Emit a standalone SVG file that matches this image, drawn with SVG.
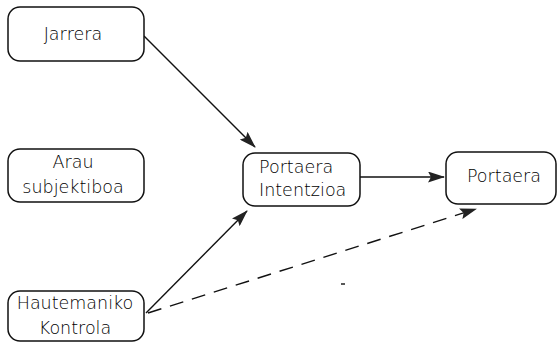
<svg xmlns="http://www.w3.org/2000/svg" width="558" height="345" viewBox="0 0 558 345">
<style>
.box{fill:#fff;stroke:#111;stroke-width:1.5}
.t{font-family:"DejaVu Sans",sans-serif;font-size:17.5px;font-weight:200;fill:#000}
.c{text-anchor:middle}
.e{stroke:#111;stroke-width:1.4;fill:none}
.d{stroke-dasharray:14 9}
</style>
<defs>
<marker id="ah" markerWidth="17" markerHeight="11" refX="16" refY="5.5" orient="auto" markerUnits="userSpaceOnUse">
<path d="M0,0 L17,5.5 L0,11 L3,5.5 Z" fill="#222"/>
</marker>
</defs>
<rect width="558" height="345" fill="#fff"/>
<g id="connectors">
<line class="e" x1="144" y1="36" x2="255" y2="147" marker-end="url(#ah)"/>
<line class="e" x1="146" y1="313" x2="247" y2="211" marker-end="url(#ah)"/>
<line class="e" x1="360" y1="177" x2="444" y2="177" marker-end="url(#ah)"/>
<line class="e d" x1="148" y1="313" x2="476" y2="209" marker-end="url(#ah)"/>
<line class="e" x1="341" y1="284" x2="345" y2="284"/>
</g>
<g id="jarrera">
<rect class="box" x="8" y="7" width="136" height="54" rx="12"/>
<text class="t c" x="73" y="40">Jarrera</text>
</g>
<g id="arau">
<rect class="box" x="8" y="149" width="136" height="53" rx="12"/>
<text class="t c" x="73" y="168">Arau</text>
<text class="t c" x="73" y="193">subjektiboa</text>
</g>
<g id="hautemaniko">
<rect class="box" x="8" y="291" width="136" height="50" rx="12"/>
<text class="t c" x="75" y="309">Hautemaniko</text>
<text class="t c" x="75" y="334">Kontrola</text>
</g>
<g id="intentzioa">
<rect class="box" x="243" y="153" width="117" height="53" rx="12"/>
<text class="t" x="259" y="173">Portaera</text>
<text class="t" x="259" y="196">Intentzioa</text>
</g>
<g id="portaera">
<rect class="box" x="446" y="152" width="110" height="52" rx="12"/>
<text class="t c" x="504" y="182">Portaera</text>
</g>
</svg>
